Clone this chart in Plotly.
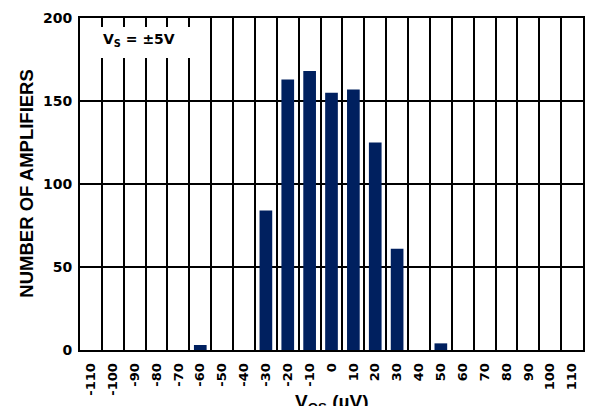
import plotly.graph_objects as go

categories = ["-110", "-100", "-90", "-80", "-70", "-60", "-50", "-40", "-30", "-20", "-10",
              "0", "10", "20", "30", "40", "50", "60", "70", "80", "90", "100", "110"]
counts = [0, 0, 0, 0, 0, 3, 0, 0, 84, 163, 168, 155, 157, 125, 61, 0, 4, 0, 0, 0, 0, 0, 0]
y_ticks = [0, 50, 100, 150, 200]

BAR = "#00205F"
TICKFONT = "DejaVu Sans"
TITLEFONT = "Liberation Sans, Arial, sans-serif"

fig = go.Figure()
fig.add_trace(go.Bar(x=categories, y=counts, width=0.58, marker=dict(color=BAR, line=dict(width=0)),
                     showlegend=False))

fig.update_layout(
    template="none",
    width=589, height=406,
    margin=dict(l=80, r=6, t=18, b=56, autoexpand=False),
    paper_bgcolor="white", plot_bgcolor="white",
    xaxis=dict(
        type="category", categoryorder="array", categoryarray=categories,
        tickson="boundaries", showgrid=True, gridcolor="black", gridwidth=2,
        showline=True, linecolor="black", linewidth=2, mirror=True,
        ticks="", tickangle=-90, ticklabelstandoff=6, automargin=False,
        tickfont=dict(family=TICKFONT, size=13, color="black", weight="bold"),
        range=[-0.5, 22.5], fixedrange=True,
    ),
    yaxis=dict(
        range=[0, 200], tickvals=y_ticks, ticktext=[str(v) for v in y_ticks],
        showgrid=True, gridcolor="black", gridwidth=2,
        showline=True, linecolor="black", linewidth=2, mirror=True,
        ticks="", ticklabelstandoff=3, zeroline=False, automargin=False,
        tickfont=dict(family=TICKFONT, size=14, color="black", weight="bold"),
        fixedrange=True,
    ),
    shapes=[dict(type="rect", xref="paper", yref="paper", x0=0.004, x1=0.2386, y0=0.8795, y1=0.973,
                 fillcolor="white", line=dict(width=0), layer="above")],
    annotations=[
        dict(text="V<sub>S</sub> = ±5V", xref="paper", yref="paper", x=0.117, y=0.935,
             xanchor="center", yanchor="middle", showarrow=False,
             font=dict(family=TICKFONT, size=14, color="black", weight="bold")),
        dict(text="NUMBER OF AMPLIFIERS", xref="paper", yref="paper", x=-0.108, y=0.503,
             textangle=-90, xanchor="center", yanchor="middle", showarrow=False,
             font=dict(family=TITLEFONT, size=18.5, color="black", weight="bold")),
        dict(text="V<sub>OS</sub> (µV)", xref="paper", yref="paper", x=0.5, y=-0.1175,
             xanchor="center", yanchor="top", showarrow=False,
             font=dict(family=TITLEFONT, size=19, color="black", weight="bold")),
    ],
)

fig.write_html("out.html", config={"displayModeBar": False},
               post_script="document.body.style.margin='0';")
